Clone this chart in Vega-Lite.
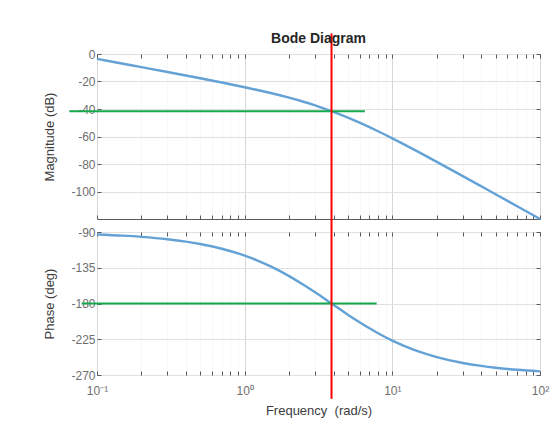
{
  "$schema": "https://vega.github.io/schema/vega-lite/v6.json",
  "padding": {"left": 43, "top": 31, "right": 5, "bottom": 5},
  "background": "white",
  "config": {
    "font": "Liberation Sans",
    "view": {"stroke": "#5a5a5a", "strokeWidth": 1},
    "title": {"font": "Liberation Sans"},
    "axis": {
      "labelFont": "Liberation Sans",
      "titleFont": "Liberation Sans",
      "labelFontSize": 12,
      "titleFontSize": 13,
      "labelColor": "#6e6e6e",
      "titleColor": "#3c3c3c",
      "titleFontWeight": "normal",
      "domain": false,
      "labelFlush": false,
      "tickColor": "#5a5a5a",
      "gridColor": "#e0e0e0"
    }
  },
  "datasets": {
    "bode": [
      {"w": 0.1, "mag": -3.53, "phase": -93.05},
      {"w": 0.15, "mag": -7.06, "phase": -94.58},
      {"w": 0.2, "mag": -9.57, "phase": -96.11},
      {"w": 0.3, "mag": -13.12, "phase": -99.15},
      {"w": 0.4, "mag": -15.67, "phase": -102.17},
      {"w": 0.5, "mag": -17.66, "phase": -105.17},
      {"w": 0.7, "mag": -20.74, "phase": -111.1},
      {"w": 1, "mag": -24.15, "phase": -119.74},
      {"w": 1.2, "mag": -25.99, "phase": -125.3},
      {"w": 1.5, "mag": -28.39, "phase": -133.27},
      {"w": 2, "mag": -31.78, "phase": -145.49},
      {"w": 2.5, "mag": -34.74, "phase": -156.38},
      {"w": 3, "mag": -37.41, "phase": -165.96},
      {"w": 3.5, "mag": -39.87, "phase": -174.39},
      {"w": 3.873, "mag": -41.58, "phase": -180.0},
      {"w": 4.5, "mag": -44.28, "phase": -188.3},
      {"w": 5, "mag": -46.28, "phase": -194.04},
      {"w": 6, "mag": -49.95, "phase": -203.62},
      {"w": 7, "mag": -53.23, "phase": -211.26},
      {"w": 8, "mag": -56.19, "phase": -217.43},
      {"w": 10, "mag": -61.34, "phase": -226.73},
      {"w": 12, "mag": -65.71, "phase": -233.34},
      {"w": 15, "mag": -71.19, "phase": -240.26},
      {"w": 20, "mag": -78.42, "phase": -247.43},
      {"w": 30, "mag": -88.79, "phase": -254.83},
      {"w": 40, "mag": -96.22, "phase": -258.58},
      {"w": 50, "mag": -102.0, "phase": -260.86},
      {"w": 70, "mag": -110.74, "phase": -263.46},
      {"w": 100, "mag": -120.0, "phase": -265.42}
    ],
    "crossover": [{"w": 3.873}],
    "gainMargin": [{"w0": 0.0649, "w1": 6.52, "level": -41.58}],
    "phaseLevel": [{"w0": 0.0788, "w1": 7.83, "level": -180}]
  },
  "spacing": 13,
  "bounds": "flush",
  "vconcat": [
    {
      "width": 443,
      "height": 165,
      "title": {
        "text": "Bode Diagram",
        "fontSize": 14,
        "fontWeight": "bold",
        "color": "#262626",
        "anchor": "middle",
        "frame": "group",
        "offset": -14
      },
      "layer": [
        {
          "data": {"name": "bode"},
          "mark": {"type": "line", "color": "#64a2d6", "strokeWidth": 2.4, "interpolate": "monotone"},
          "encoding": {
            "x": {
              "field": "w",
              "type": "quantitative",
              "scale": {"type": "log", "domain": [0.1, 100], "nice": false},
              "axis": {
                "orient": "bottom",
                "title": null,
                "labels": false,
                "values": [0.1, 0.2, 0.3, 0.4, 0.5, 0.6, 0.7, 0.8, 0.9, 1, 2, 3, 4, 5, 6, 7, 8, 9, 10, 20, 30, 40, 50, 60, 70, 80, 90, 100],
                "tickSize": -4,
                "grid": true,
                "gridDash": {"condition": {"test": "datum.value == 0.1 || datum.value == 1 || datum.value == 10 || datum.value == 100", "value": []}, "value": [1, 2]},
                "gridColor": {"condition": {"test": "datum.value == 0.1 || datum.value == 1 || datum.value == 10 || datum.value == 100", "value": "#d6d6d6"}, "value": "#e8e8e8"}
              }
            },
            "y": {
              "field": "mag",
              "type": "quantitative",
              "scale": {"domain": [-120, 0], "nice": false},
              "axis": {
                "title": "Magnitude (dB)",
                "values": [0, -20, -40, -60, -80, -100],
                "labelExpr": "'' + datum.value",
                "tickSize": -4,
                "labelPadding": 6,
                "titlePadding": 14,
                "grid": true
              }
            }
          }
        },
        {
          "data": {"name": "gainMargin"},
          "mark": {"type": "rule", "color": "#17a84b", "strokeWidth": 2, "clip": false},
          "encoding": {
            "x": {
              "field": "w0",
              "type": "quantitative",
              "axis": {
                "orient": "top",
                "title": null,
                "labels": false,
                "grid": false,
                "values": [0.1, 0.2, 0.3, 0.4, 0.5, 0.6, 0.7, 0.8, 0.9, 1, 2, 3, 4, 5, 6, 7, 8, 9, 10, 20, 30, 40, 50, 60, 70, 80, 90, 100],
                "tickSize": -4
              }
            },
            "x2": {"field": "w1"},
            "y": {
              "field": "level",
              "type": "quantitative",
              "axis": {
                "orient": "right",
                "title": null,
                "labels": false,
                "grid": false,
                "values": [0, -20, -40, -60, -80, -100],
                "tickSize": -4
              }
            }
          }
        },
        {
          "data": {"name": "crossover"},
          "mark": {"type": "rule", "color": "#ff0000", "strokeWidth": 2, "clip": false},
          "encoding": {
            "x": {"field": "w", "type": "quantitative", "axis": null},
            "y": {"datum": 15, "axis": null},
            "y2": {"datum": -130}
          }
        }
      ],
      "resolve": {"axis": {"x": "independent", "y": "independent"}}
    },
    {
      "width": 443,
      "height": 143,
      "layer": [
        {
          "data": {"name": "bode"},
          "mark": {"type": "line", "color": "#64a2d6", "strokeWidth": 2.4, "interpolate": "monotone"},
          "encoding": {
            "x": {
              "field": "w",
              "type": "quantitative",
              "scale": {"type": "log", "domain": [0.1, 100], "nice": false},
              "axis": {
                "orient": "bottom",
                "title": "Frequency\u00a0 (rad/s)",
                "titlePadding": 8,
                "values": [0.1, 0.2, 0.3, 0.4, 0.5, 0.6, 0.7, 0.8, 0.9, 1, 2, 3, 4, 5, 6, 7, 8, 9, 10, 20, 30, 40, 50, 60, 70, 80, 90, 100],
                "labelExpr": "datum.value == 0.1 ? '10⁻¹' : datum.value == 1 ? '10⁰' : datum.value == 10 ? '10¹' : datum.value == 100 ? '10²' : ''",
                "labelPadding": 14,
                "tickSize": -4,
                "grid": true,
                "gridDash": {"condition": {"test": "datum.value == 0.1 || datum.value == 1 || datum.value == 10 || datum.value == 100", "value": []}, "value": [1, 2]},
                "gridColor": {"condition": {"test": "datum.value == 0.1 || datum.value == 1 || datum.value == 10 || datum.value == 100", "value": "#d6d6d6"}, "value": "#e8e8e8"}
              }
            },
            "y": {
              "field": "phase",
              "type": "quantitative",
              "scale": {"domain": [-270, -90], "nice": false},
              "axis": {
                "title": "Phase (deg)",
                "values": [-90, -135, -180, -225, -270],
                "labelExpr": "'' + datum.value",
                "tickSize": -4,
                "labelPadding": 6,
                "titlePadding": 14,
                "grid": true
              }
            }
          }
        },
        {
          "data": {"name": "phaseLevel"},
          "mark": {"type": "rule", "color": "#17a84b", "strokeWidth": 2, "clip": false},
          "encoding": {
            "x": {
              "field": "w0",
              "type": "quantitative",
              "axis": {
                "orient": "top",
                "title": null,
                "labels": false,
                "grid": false,
                "values": [0.1, 0.2, 0.3, 0.4, 0.5, 0.6, 0.7, 0.8, 0.9, 1, 2, 3, 4, 5, 6, 7, 8, 9, 10, 20, 30, 40, 50, 60, 70, 80, 90, 100],
                "tickSize": -4
              }
            },
            "x2": {"field": "w1"},
            "y": {
              "field": "level",
              "type": "quantitative",
              "axis": {
                "orient": "right",
                "title": null,
                "labels": false,
                "grid": false,
                "values": [-90, -135, -180, -225, -270],
                "tickSize": -4
              }
            }
          }
        },
        {
          "data": {"name": "crossover"},
          "mark": {"type": "rule", "color": "#ff0000", "strokeWidth": 2, "clip": false},
          "encoding": {
            "x": {"field": "w", "type": "quantitative", "axis": null},
            "y": {"datum": -90, "axis": null},
            "y2": {"datum": -300}
          }
        }
      ],
      "resolve": {"axis": {"x": "independent", "y": "independent"}}
    }
  ]
}
